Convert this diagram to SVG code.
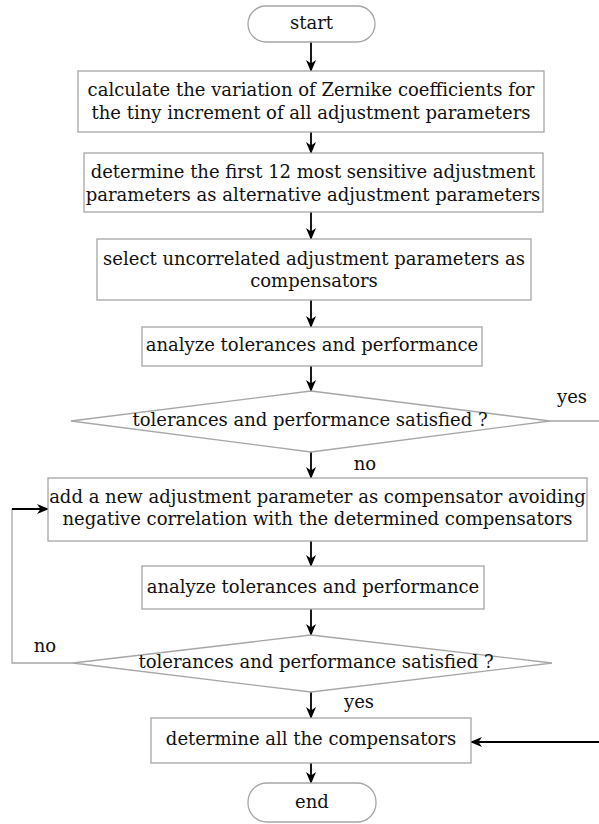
<svg xmlns="http://www.w3.org/2000/svg" width="599" height="824" viewBox="0 0 599 824">
<style>
.box{fill:#fff;stroke:#a6a6a6;stroke-width:1.3}
.t{font-family:"DejaVu Serif","Liberation Serif",serif;font-size:18px;fill:#111;text-anchor:middle}
.arr{fill:none;stroke:#000;stroke-width:1.8;marker-end:url(#ah)}
.gl{fill:none;stroke:#a6a6a6;stroke-width:1.3}
</style>
<defs>
<marker id="ah" viewBox="0 0 12 10" refX="11" refY="5" markerWidth="12" markerHeight="10" markerUnits="userSpaceOnUse" orient="auto">
<path d="M0,0 L12,5 L0,10 L3.5,5 Z" fill="#000"/>
</marker>
</defs>
<rect width="599" height="824" fill="#fff"/>
<g id="connectors">
<line class="arr" x1="311" y1="42" x2="311" y2="71"/>
<line class="arr" x1="311" y1="132" x2="311" y2="153"/>
<line class="arr" x1="311" y1="212" x2="311" y2="239"/>
<line class="arr" x1="311" y1="300" x2="311" y2="327"/>
<line class="arr" x1="311" y1="366" x2="311" y2="391"/>
<line class="arr" x1="311" y1="452" x2="311" y2="478"/>
<line class="arr" x1="311" y1="541" x2="311" y2="566"/>
<line class="arr" x1="311" y1="609" x2="311" y2="635"/>
<line class="arr" x1="311" y1="692" x2="311" y2="718"/>
<line class="arr" x1="311" y1="763" x2="311" y2="783"/>
<line class="gl" x1="550" y1="421" x2="599" y2="421"/>
<polyline class="gl" points="73,663 12,663 12,509"/>
<line class="arr" x1="12" y1="509" x2="48" y2="509"/>
<line class="arr" x1="599" y1="742" x2="471" y2="742"/>
<text class="t" x="572" y="403">yes</text>
<text class="t" x="365" y="470">no</text>
<text class="t" x="45" y="652">no</text>
<text class="t" x="359" y="708">yes</text>
</g>
<g id="start">
<rect class="box" x="248" y="6" width="127" height="36" rx="18"/>
<text class="t" x="311.5" y="29">start</text>
</g>
<g id="calc">
<rect class="box" x="78" y="71" width="466" height="61"/>
<text class="t" x="311" y="96">calculate the variation of Zernike coefficients for</text>
<text class="t" x="311" y="119">the tiny increment of all adjustment parameters</text>
</g>
<g id="determine12">
<rect class="box" x="84" y="153" width="459" height="59"/>
<text class="t" x="313" y="178">determine the first 12 most sensitive adjustment</text>
<text class="t" x="313" y="201">parameters as alternative adjustment parameters</text>
</g>
<g id="select">
<rect class="box" x="97" y="239" width="434" height="61"/>
<text class="t" x="314" y="265">select uncorrelated adjustment parameters as</text>
<text class="t" x="314" y="287">compensators</text>
</g>
<g id="analyze1">
<rect class="box" x="142" y="327" width="340" height="39"/>
<text class="t" x="312" y="351">analyze tolerances and performance</text>
</g>
<g id="decision1">
<polygon class="box" points="311,391 550,421 311,452 71,421"/>
<text class="t" x="310" y="426">tolerances and performance satisfied ?</text>
</g>
<g id="add">
<rect class="box" x="48" y="478" width="539" height="63"/>
<text class="t" x="317.5" y="503">add a new adjustment parameter as compensator avoiding</text>
<text class="t" x="317.5" y="525">negative correlation with the determined compensators</text>
</g>
<g id="analyze2">
<rect class="box" x="142" y="566" width="342" height="43"/>
<text class="t" x="313" y="593">analyze tolerances and performance</text>
</g>
<g id="decision2">
<polygon class="box" points="311,635 552,663 311,692 73,663"/>
<text class="t" x="316" y="668">tolerances and performance satisfied ?</text>
</g>
<g id="determineAll">
<rect class="box" x="151" y="718" width="320" height="45"/>
<text class="t" x="311" y="745">determine all the compensators</text>
</g>
<g id="end">
<rect class="box" x="248" y="783" width="128" height="39" rx="19"/>
<text class="t" x="312" y="808">end</text>
</g>
</svg>
